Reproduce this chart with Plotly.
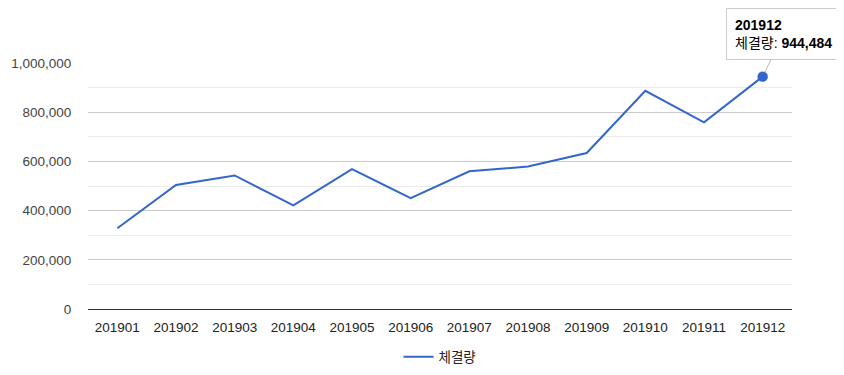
import plotly.graph_objects as go

months = ["201901", "201902", "201903", "201904", "201905", "201906",
          "201907", "201908", "201909", "201910", "201911", "201912"]
volume = [328000, 504000, 543000, 421000, 569000, 451000,
          560000, 579000, 634000, 887000, 759000, 944484]
series_name = "체결량"
y_ticks = [0, 200000, 400000, 600000, 800000, 1000000]

FONT = "Liberation Sans, Arial, Noto Sans CJK KR, sans-serif"
BLUE = "#3366cc"

idx = list(range(len(months)))

fig = go.Figure()
fig.add_trace(go.Scatter(
    x=idx, y=volume, mode="lines", name=series_name,
    line=dict(color=BLUE, width=2),
))
fig.add_trace(go.Scatter(
    x=[idx[-1]], y=[volume[-1]], mode="markers", showlegend=False,
    marker=dict(color=BLUE, size=10, line=dict(color="rgba(51,102,204,0.4)", width=1)),
    hoverinfo="skip",
))

fig.add_annotation(
    x=idx[-1], y=volume[-1],
    text=f"<b>{months[-1]}</b><br>{series_name}: <b>{volume[-1]:,}</b>",
    align="left", showarrow=True, arrowhead=0, arrowwidth=1, arrowcolor="#bbbbbb",
    ax=21, ay=-43, standoff=5,
    bgcolor="white", bordercolor="#cccccc", borderwidth=1, borderpad=8,
    font=dict(family=FONT, size=14, color="#000000"),
)

fig.update_layout(
    width=844, height=375,
    margin=dict(l=80, r=60, t=55, b=74, autoexpand=False),
    paper_bgcolor="white", plot_bgcolor="white",
    font=dict(family=FONT, size=13.5, color="#444444"),
    showlegend=True,
    legend=dict(orientation="h", x=0.5, xanchor="center", y=-0.195, yanchor="middle",
                font=dict(family=FONT, size=13.5, color="#222222")),
    xaxis=dict(
        range=[-0.5, len(months) - 0.5], tickvals=idx, ticktext=months,
        showgrid=False, zeroline=False, automargin=False,
        showline=False, ticks="outside", ticklen=6, tickcolor="rgba(0,0,0,0)",
        tickfont=dict(color="#222222"),
    ),
    yaxis=dict(
        range=[0, 1000000], tickvals=y_ticks,
        ticktext=[f"{v:,}" for v in y_ticks], automargin=False,
        showgrid=True, gridcolor="#cccccc", gridwidth=1,
        minor=dict(dtick=100000, showgrid=True, gridcolor="#ebebeb", gridwidth=1),
        zeroline=True, zerolinecolor="#333333", zerolinewidth=1,
        ticks="outside", ticklen=13, tickcolor="rgba(0,0,0,0)",
        tickfont=dict(color="#444444"),
    ),
)

fig.write_html("out.html")
